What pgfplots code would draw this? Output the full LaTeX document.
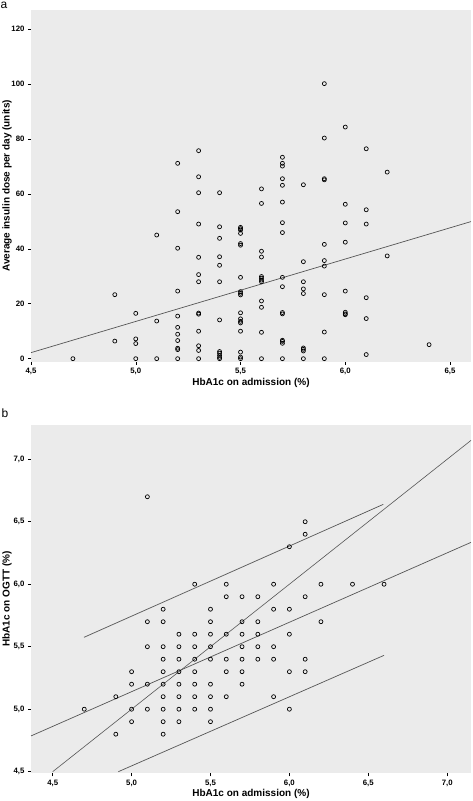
\documentclass[border=0pt]{standalone}
\usepackage{pgfplots}
\pgfplotsset{compat=1.18}
\usepackage{fontspec}
\setmainfont{Liberation Sans}
\definecolor{bgray}{RGB}{235,235,235}
\definecolor{lgray}{RGB}{85,85,85}
\pgfplotsset{
  spssstyle/.style={
    scale only axis,
    axis background/.style={fill=bgray},
    axis line style={draw=none},
    tick align=outside,
    xtick pos=lower, ytick pos=left,
    major tick length=3pt,
    tick style={black, line width=0.5pt},
    /pgf/number format/assume math mode=true,
    ticklabel style={font=\bfseries\fontsize{7.8}{9}\selectfont},
    label style={font=\bfseries\fontsize{10}{12}\selectfont},
    xlabel style={at={(axis description cs:0.5,0)}, anchor=center, yshift=-20.8pt},
    ylabel style={at={(axis description cs:-0.0545,0.5)}, anchor=center},
  },
  pts/.style={only marks, mark=o, mark size=2pt, black, mark options={line width=0.7pt}},
  fitline/.style={lgray, line width=0.7pt, no marks},
}
\pgfplotstableread{
x y
4.7 0
4.9 23.3
4.9 6.4
5.0 16.5
5.0 7.2
5.0 5.5
5.0 0
5.1 45.0
5.1 13.7
5.1 0
5.2 71.1
5.2 53.5
5.2 40.2
5.2 24.6
5.2 15.5
5.2 11.4
5.2 8.9
5.2 6.6
5.2 3.8
5.2 3.3
5.2 0
5.3 75.7
5.3 66.2
5.3 60.4
5.3 49.0
5.3 36.9
5.3 30.6
5.3 28.0
5.3 16.6
5.3 16.2
5.3 10.0
5.3 4.7
5.3 3.0
5.3 0
5.4 60.4
5.4 48.0
5.4 43.8
5.4 37.1
5.4 34.0
5.4 28.0
5.4 14.1
5.4 2.6
5.4 2.0
5.4 1.2
5.4 0.5
5.4 0
5.5 47.8
5.5 47.3
5.5 46.8
5.5 45.6
5.5 41.9
5.5 41.3
5.5 29.6
5.5 24.4
5.5 23.8
5.5 23.2
5.5 16.7
5.5 14.5
5.5 13.6
5.5 13.0
5.5 10.0
5.5 2.4
5.5 0.6
5.5 0
5.6 61.8
5.6 56.5
5.6 39.1
5.6 37.0
5.6 29.9
5.6 29.3
5.6 28.6
5.6 28.0
5.6 21.0
5.6 18.7
5.6 9.6
5.6 0
5.7 73.3
5.7 71.1
5.7 70.1
5.7 65.5
5.7 63.1
5.7 57.0
5.7 49.5
5.7 45.9
5.7 29.6
5.7 26.2
5.7 16.8
5.7 16.3
5.7 6.7
5.7 6.3
5.7 5.6
5.7 0
5.8 63.3
5.8 35.3
5.8 28.0
5.8 25.4
5.8 23.7
5.8 3.9
5.8 3.4
5.8 2.8
5.8 0
5.9 100.1
5.9 80.3
5.9 65.5
5.9 65.1
5.9 41.6
5.9 35.7
5.9 33.7
5.9 23.3
5.9 9.7
5.9 0
6.0 84.3
6.0 56.2
6.0 49.4
6.0 42.4
6.0 24.6
6.0 16.9
6.0 16.3
6.0 16.0
6.1 76.4
6.1 54.2
6.1 49.0
6.1 22.2
6.1 14.6
6.1 1.5
6.2 67.9
6.2 37.4
6.4 5.1
}\toptable
\pgfplotstableread{
x y
5.1 6.7
6.1 6.5
6.1 6.4
6.0 6.3
5.4 6.0
5.6 6.0
5.9 6.0
6.2 6.0
6.4 6.0
6.6 6.0
5.6 5.9
5.7 5.9
5.8 5.9
6.1 5.9
5.2 5.8
5.5 5.8
5.9 5.8
6.0 5.8
5.1 5.7
5.2 5.7
5.5 5.7
5.7 5.7
5.8 5.7
6.2 5.7
5.3 5.6
5.4 5.6
5.5 5.6
5.6 5.6
5.7 5.6
5.8 5.6
6.0 5.6
5.1 5.5
5.2 5.5
5.3 5.5
5.4 5.5
5.5 5.5
5.7 5.5
5.8 5.5
5.9 5.5
5.2 5.4
5.3 5.4
5.4 5.4
5.5 5.4
5.6 5.4
5.7 5.4
5.8 5.4
5.9 5.4
6.1 5.4
5.0 5.3
5.2 5.3
5.3 5.3
5.4 5.3
5.6 5.3
5.7 5.3
6.0 5.3
6.1 5.3
5.0 5.2
5.1 5.2
5.2 5.2
5.3 5.2
5.4 5.2
5.5 5.2
5.7 5.2
4.9 5.1
5.2 5.1
5.3 5.1
5.4 5.1
5.5 5.1
5.6 5.1
5.9 5.1
4.7 5.0
5.0 5.0
5.1 5.0
5.2 5.0
5.3 5.0
5.4 5.0
5.5 5.0
6.0 5.0
5.0 4.9
5.2 4.9
5.3 4.9
5.5 4.9
4.9 4.8
5.2 4.8
}\bottable
\begin{document}
\begin{tikzpicture}
\useasboundingbox (0,0) rectangle (472pt,-801pt);
\node[anchor=base west, inner sep=0pt, font=\fontsize{12}{12}\selectfont] at (0.5pt,-8.5pt) {a};
\node[anchor=base west, inner sep=0pt, font=\fontsize{12}{12}\selectfont] at (1.5pt,-417.5pt) {b};
\begin{axis}[spssstyle,
  at={(31pt,-361.7pt)}, anchor=south west,
  width=440pt, height=351.7pt,
  xmin=4.5, xmax=6.6, ymin=-1.1, ymax=126.9,
  xtick={4.5,5.0,5.5,6.0,6.5},
  ytick={0,20,40,60,80,100,120},
  xticklabel style={/pgf/number format/.cd, fixed, fixed zerofill, precision=1, use comma},
  xlabel={HbA1c on admission (\%)},
  ylabel={Average insulin dose per day (units)},
]
\addplot[fitline] coordinates {(4.5,2.2) (6.6,49.9)};
\addplot[pts] table[x=x,y=y] {\toptable};
\end{axis}
\begin{axis}[spssstyle,
  at={(31pt,-773.3pt)}, anchor=south west,
  width=440pt, height=348.3pt,
  xmin=4.3625, xmax=7.151, ymin=4.487, ymax=7.274,
  xtick={4.5,5.0,5.5,6.0,6.5,7.0},
  ytick={4.5,5.0,5.5,6.0,6.5,7.0},
  ticklabel style={/pgf/number format/.cd, fixed, fixed zerofill, precision=1, use comma},
  xlabel={HbA1c on admission (\%)},
  ylabel={HbA1c on OGTT (\%)},
]
\addplot[fitline, line width=0.6pt] coordinates {(4.5,4.5) (7.151,7.151)};
\addplot[fitline] coordinates {(4.3625,4.786) (7.151,6.335)};
\addplot[fitline] coordinates {(4.698,5.575) (6.595,6.639)};
\addplot[fitline] coordinates {(4.916,4.5) (6.6,5.431)};
\addplot[pts] table[x=x,y=y] {\bottable};
\end{axis}
\end{tikzpicture}
\end{document}
